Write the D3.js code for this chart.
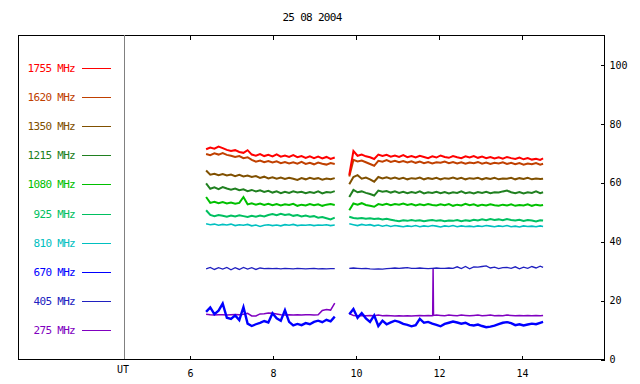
<!DOCTYPE html>
<html>
<head>
<meta charset="utf-8">
<script src="https://cdn.jsdelivr.net/npm/d3@7"></script>
<style>
  body { margin: 0; background: #fff; }
  svg { display: block; }
  text { font-family: "DejaVu Sans Mono", "Liberation Mono", monospace; }
</style>
</head>
<body>
<svg id="chart" width="640" height="384"></svg>
<script>
// 25 08 2004 radio flux, UT hours
var title = "25 08 2004";
var bands = ["1755 MHz", "1620 MHz", "1350 MHz", "1215 MHz", "1080 MHz",
             "925 MHz", "810 MHz", "670 MHz", "405 MHz", "275 MHz"];
var bandColors = ["#ff0000", "#c04000", "#805000", "#208020", "#00c000",
                  "#00c060", "#00c0c0", "#0000ff", "#2020c0", "#8000c0"];
var bandWidths = [2, 2, 2, 2, 2, 2, 1.6, 2.4, 1.3, 1.5];
var hourTicks = [6, 8, 10, 12, 14];
var valueTicks = [0, 20, 40, 60, 80, 100];

var times1 = [6.4, 6.5, 6.6, 6.7, 6.8, 6.9, 7.0, 7.1, 7.2, 7.3, 7.4, 7.5, 7.6, 7.7, 7.8, 7.9,
              8.0, 8.1, 8.2, 8.3, 8.4, 8.5, 8.6, 8.7, 8.8, 8.9, 9.0, 9.1, 9.2, 9.3, 9.4, 9.5];
var times2 = [9.85, 9.95, 10.05, 10.15, 10.25, 10.35, 10.45, 10.55, 10.65, 10.75, 10.85, 10.95,
              11.05, 11.15, 11.25, 11.35, 11.45, 11.55, 11.65, 11.75, 11.85, 11.95, 12.05, 12.15,
              12.25, 12.35, 12.45, 12.55, 12.65, 12.75, 12.85, 12.95, 13.05, 13.15, 13.25, 13.35,
              13.45, 13.55, 13.65, 13.75, 13.85, 13.95, 14.05, 14.15, 14.25, 14.35, 14.45, 14.52];

var f1755a = [71.2, 71.8, 71.4, 72.1, 71.6, 71.0, 70.6, 70.9, 70.3, 70.0, 70.9, 69.4, 69.0, 69.6, 68.9, 69.3,
              68.8, 69.5, 68.7, 69.1, 68.6, 69.2, 68.5, 68.9, 68.3, 68.8, 68.2, 68.7, 68.1, 68.6, 67.9, 68.4];
var f1755b = [62.5, 70.6, 69.0, 69.4, 68.8, 68.5, 67.9, 69.4, 68.9, 69.3, 68.7, 69.1, 68.6, 69.2, 68.5, 68.9,
              68.4, 69.0, 68.6, 68.2, 68.8, 68.4, 69.1, 68.6, 68.3, 68.9, 68.5, 68.2, 68.8, 68.4, 68.9, 68.3,
              68.7, 68.2, 68.6, 68.1, 68.5, 68.0, 68.6, 68.2, 67.9, 68.4, 67.8, 68.2, 67.7, 68.0, 67.6, 68.1];

var f1620a = [69.6, 69.2, 69.8, 69.4, 69.9, 69.3, 69.0, 68.6, 68.9, 68.2, 68.5, 67.6, 67.0, 67.4, 66.8, 67.2,
              66.7, 67.1, 66.5, 66.9, 66.4, 66.8, 66.3, 66.9, 66.2, 66.6, 66.1, 66.7, 66.3, 66.0, 66.5, 66.2];
var f1620b = [62.0, 67.6, 67.1, 67.4, 66.8, 66.2, 65.6, 67.3, 67.0, 67.5, 66.9, 67.3, 66.8, 67.2, 66.7, 67.1,
              66.6, 67.0, 66.5, 66.9, 66.4, 66.8, 66.6, 67.0, 66.5, 66.9, 66.4, 66.8, 66.3, 66.7, 66.5, 66.9,
              66.3, 66.7, 66.2, 66.6, 66.4, 66.8, 66.2, 66.6, 66.1, 66.5, 66.0, 66.4, 66.1, 66.5, 66.0, 66.3];

var f1350a = [64.0, 62.6, 62.9, 62.4, 62.8, 62.3, 62.6, 62.1, 62.5, 62.0, 62.3, 61.8, 62.1, 61.5, 61.9, 61.3,
              61.7, 61.2, 61.6, 61.1, 61.5, 61.2, 60.8, 61.4, 61.0, 61.5, 61.1, 61.4, 60.9, 61.3, 61.0, 61.4];
var f1350b = [59.3, 61.8, 62.4, 61.2, 61.6, 61.0, 60.2, 61.8, 61.3, 61.7, 61.2, 61.6, 61.1, 61.5, 61.0, 61.4,
              61.2, 61.6, 61.0, 61.4, 61.1, 61.5, 61.0, 61.4, 61.2, 61.6, 61.1, 61.5, 61.0, 61.4, 61.2, 61.5,
              61.0, 61.4, 61.1, 61.5, 61.0, 61.3, 61.2, 61.5, 61.0, 61.4, 61.1, 61.5, 61.0, 61.3, 61.1, 61.2];

var f1215a = [59.6, 57.8, 58.3, 57.7, 58.4, 57.9, 57.5, 57.9, 57.3, 57.6, 57.0, 57.4, 56.9, 57.3, 56.7, 57.1,
              56.5, 56.9, 56.3, 56.8, 56.4, 56.9, 56.5, 56.8, 56.3, 56.7, 56.4, 56.9, 56.2, 56.7, 56.5, 57.0];
var f1215b = [55.0, 57.4, 56.6, 56.9, 56.4, 56.0, 55.5, 57.2, 56.8, 57.0, 56.5, 56.9, 56.4, 56.8, 56.3, 56.7,
              56.4, 56.9, 56.2, 56.6, 56.4, 56.8, 56.3, 56.7, 56.2, 56.6, 56.4, 56.9, 56.3, 56.6, 56.2, 56.7,
              56.4, 56.8, 56.3, 56.6, 56.5, 56.9, 57.2, 56.6, 56.3, 56.7, 56.2, 56.6, 56.4, 56.9, 56.3, 56.6];

var f1080a = [55.0, 53.0, 53.4, 52.9, 53.3, 52.8, 53.1, 52.7, 53.0, 55.0, 52.5, 52.9, 52.4, 52.8, 52.3, 52.7,
              52.2, 52.6, 52.1, 52.5, 52.3, 52.7, 52.0, 52.4, 52.1, 52.6, 52.2, 52.5, 52.0, 52.4, 52.6, 52.3];
var f1080b = [50.5, 52.8, 52.4, 52.9, 52.3, 52.0, 51.7, 52.6, 52.3, 52.7, 52.2, 52.6, 52.4, 52.8, 52.3, 52.6,
              52.1, 52.5, 52.2, 52.6, 52.3, 52.1, 52.5, 52.2, 52.6, 52.0, 52.4, 52.1, 52.7, 52.2, 52.5, 52.0,
              52.4, 52.1, 52.5, 52.2, 52.0, 52.4, 52.1, 52.5, 52.0, 52.3, 52.1, 52.5, 52.0, 52.4, 52.1, 52.3];

var f925a = [50.5, 48.9, 48.5, 48.9, 48.6, 48.3, 48.7, 48.4, 48.8, 48.5, 48.2, 48.6, 48.3, 48.7, 48.4, 48.9,
             49.2, 48.8, 49.3, 48.9, 49.1, 48.6, 48.9, 48.4, 48.7, 48.3, 48.5, 48.0, 48.2, 47.8, 47.4, 48.0];
var f925b = [48.3, 47.9, 47.7, 47.9, 47.6, 47.8, 47.5, 47.7, 47.4, 47.6, 47.3, 47.0, 46.8, 47.1, 46.9, 47.2,
             46.9, 47.1, 46.8, 47.0, 47.2, 46.9, 47.1, 46.8, 47.0, 46.9, 47.2, 46.8, 47.1, 46.9, 47.3, 47.0,
             47.4, 47.1, 47.5, 47.2, 47.4, 47.1, 47.5, 47.2, 47.0, 47.3, 46.9, 47.2, 47.0, 46.7, 47.1, 47.0];

var f810a = [45.9, 45.6, 45.8, 45.4, 45.7, 45.5, 45.8, 45.3, 45.6, 45.4, 45.7, 45.2, 45.5, 45.0, 45.4, 45.6,
             45.3, 45.5, 45.2, 45.6, 45.4, 45.7, 45.3, 45.5, 45.4, 45.6, 45.3, 45.5, 45.4, 45.6, 45.3, 45.5];
var f810b = [45.9, 45.6, 45.3, 45.7, 45.4, 45.6, 45.2, 45.5, 45.1, 45.4, 45.0, 45.3, 45.1, 44.9, 45.2, 45.0,
             45.3, 44.9, 45.2, 45.0, 45.3, 45.1, 44.8, 45.2, 45.0, 45.3, 44.9, 45.2, 45.0, 45.1, 44.9, 45.2,
             45.0, 45.3, 45.1, 44.9, 45.2, 45.0, 45.3, 44.9, 45.1, 44.8, 45.2, 45.0, 45.1, 44.9, 45.2, 45.0];

var f670a = [16.0, 17.5, 15.2, 16.4, 18.8, 14.0, 13.6, 14.8, 13.2, 17.6, 12.0, 11.2, 11.8, 12.3, 12.9, 12.4,
             15.5, 13.8, 13.0, 16.6, 12.6, 11.4, 11.9, 11.5, 12.2, 11.8, 12.6, 13.0, 12.5, 13.3, 12.8, 14.4];
var f670b = [15.2, 17.0, 14.0, 15.6, 13.8, 12.6, 14.8, 11.2, 13.0, 11.8, 12.4, 13.0, 12.6, 11.9, 11.6, 11.1,
             11.5, 13.6, 12.3, 12.6, 12.0, 11.6, 11.1, 11.9, 12.3, 12.7, 12.4, 12.0, 12.3, 11.6, 11.4, 11.7,
             11.2, 10.8, 11.0, 11.3, 11.8, 12.3, 12.5, 12.2, 11.5, 11.8, 11.4, 11.7, 12.0, 11.8, 12.3, 12.6];

var f405a = [30.6, 31.1, 30.4, 31.0, 30.5, 31.1, 30.3, 31.0, 30.4, 31.1, 30.5, 31.0, 30.4, 30.9, 30.7, 30.8,
             30.7, 30.8, 30.6, 30.8, 30.7, 30.6, 30.8, 30.7, 30.6, 30.7, 30.8, 30.6, 30.7, 30.6, 30.7, 30.7];
var f405b = [30.8, 30.9, 30.8, 30.7, 30.8, 30.6, 30.5, 30.6, 30.5, 30.7, 30.8, 30.9, 30.8, 30.9, 31.0, 30.8,
             30.8, 30.9, 30.8, 30.7, 30.8, 30.9, 30.8, 30.8, 30.9, 30.8, 31.3, 30.7, 31.4, 30.6, 31.3, 31.2,
             31.4, 31.6, 30.9, 31.2, 30.7, 31.0, 31.1, 30.8, 31.3, 30.6, 31.2, 30.8, 31.4, 30.9, 31.5, 31.1];

var f275a = [15.2, 15.0, 14.9, 15.0, 15.0, 14.9, 15.0, 15.1, 15.0, 15.2, 15.5, 14.6, 14.6, 15.3, 15.4, 15.6,
             15.5, 15.3, 15.0, 14.9, 15.0, 14.9, 15.0, 14.9, 15.0, 15.0, 14.9, 15.0, 16.5, 16.8, 16.6, 19.0];
var f275b = [15.4, 14.8, 14.7, 14.8, 14.7, 14.8, 14.7, 14.9, 14.7, 14.8, 14.7, 14.6, 14.7, 14.6, 14.7, 14.6,
             14.7, 14.8, 14.7, 14.8, 14.7, 14.9, 14.8, 14.7, 14.9, 14.8, 14.7, 14.9, 14.8, 14.7, 14.8, 14.9,
             14.7, 14.8, 14.9, 14.7, 14.8, 14.7, 14.9, 14.8, 14.7, 14.8, 14.7, 14.8, 14.7, 14.8, 14.7, 14.8];
// single sharp burst on 275 MHz around 11:52 UT
var f275spike = [[11.86, 14.8], [11.87, 30.8], [11.88, 14.8]];

var segA = [f1755a, f1620a, f1350a, f1215a, f1080a, f925a, f810a, f670a, f405a, f275a];
var segB = [f1755b, f1620b, f1350b, f1215b, f1080b, f925b, f810b, f670b, f405b, f275b];

var svg = d3.select("#chart");
var frame = {left: 18, top: 35, right: 604, bottom: 359};

var x = d3.scaleLinear().domain([6, 14]).range([189.5, 521.5]);
var y = d3.scaleLinear().domain([0, 110]).range([frame.bottom, frame.top]);

// title
svg.append("text")
  .attr("x", 312).attr("y", 21)
  .attr("text-anchor", "middle")
  .style("font-size", "11px").style("letter-spacing", "-0.7px")
  .text(title);

// traces, low frequencies first so 1755 ends on top
var line = d3.line().x(function(d) { return x(d[0]); }).y(function(d) { return y(d[1]); });
var gData = svg.append("g").attr("class", "traces");
for (var i = bands.length - 1; i >= 0; i--) {
  var ptsA = times1.map(function(t, k) { return [t, segA[i][k]]; });
  var ptsB = times2.map(function(t, k) { return [t, segB[i][k]]; });
  if (bands[i] === "275 MHz") {
    ptsB = ptsB.concat(f275spike).sort(function(a, b) { return a[0] - b[0]; });
  }
  [ptsA, ptsB].forEach(function(pts) {
    gData.append("path")
      .attr("d", line(pts))
      .attr("fill", "none")
      .attr("stroke", bandColors[i])
      .attr("stroke-width", bandWidths[i])
      .attr("stroke-linejoin", "miter");
  });
}

// frame + legend separator
svg.append("rect")
  .attr("x", frame.left + 0.5).attr("y", frame.top + 0.5)
  .attr("width", frame.right - frame.left).attr("height", frame.bottom - frame.top)
  .attr("fill", "none").attr("stroke", "#000").attr("shape-rendering", "crispEdges");
svg.append("line")
  .attr("x1", 124.5).attr("x2", 124.5)
  .attr("y1", frame.top).attr("y2", frame.bottom)
  .attr("stroke", "#808080").attr("shape-rendering", "crispEdges");

// axes
var axBottom = svg.append("g")
  .attr("transform", "translate(0.5," + (frame.bottom + 0.5) + ")")
  .call(d3.axisBottom(x).tickValues(hourTicks).tickSizeInner(-4).tickSizeOuter(0).tickPadding(10));
var axTop = svg.append("g")
  .attr("transform", "translate(0.5," + (frame.top + 0.5) + ")")
  .call(d3.axisTop(x).tickValues(hourTicks).tickSizeInner(-4).tickSizeOuter(0).tickFormat(""));
var axRight = svg.append("g")
  .attr("transform", "translate(" + (frame.right + 0.5) + ",0.5)")
  .call(d3.axisRight(y).tickValues(valueTicks).tickSizeInner(-4).tickSizeOuter(0).tickPadding(5));
[axBottom, axTop, axRight].forEach(function(g) {
  g.select(".domain").remove();
  g.selectAll("line").attr("shape-rendering", "crispEdges");
  g.selectAll("text").style("font-family", "DejaVu Sans Mono").style("font-size", "10px");
});

svg.append("text")
  .attr("x", 123).attr("y", 373)
  .attr("text-anchor", "middle")
  .style("font-size", "10px")
  .text("UT");

// legend
var legend = svg.append("g").attr("class", "legend");
bands.forEach(function(b, i) {
  var cy = 68 + i * 29.1;
  legend.append("text")
    .attr("x", 75).attr("y", cy + 4)
    .attr("text-anchor", "end")
    .attr("fill", bandColors[i])
    .style("font-size", "11px").style("letter-spacing", "-0.7px")
    .text(b);
  legend.append("line")
    .attr("x1", 82).attr("x2", 111)
    .attr("y1", Math.round(cy) + 0.5).attr("y2", Math.round(cy) + 0.5)
    .attr("stroke", bandColors[i])
    .attr("shape-rendering", "crispEdges");
});
</script>
</body>
</html>
